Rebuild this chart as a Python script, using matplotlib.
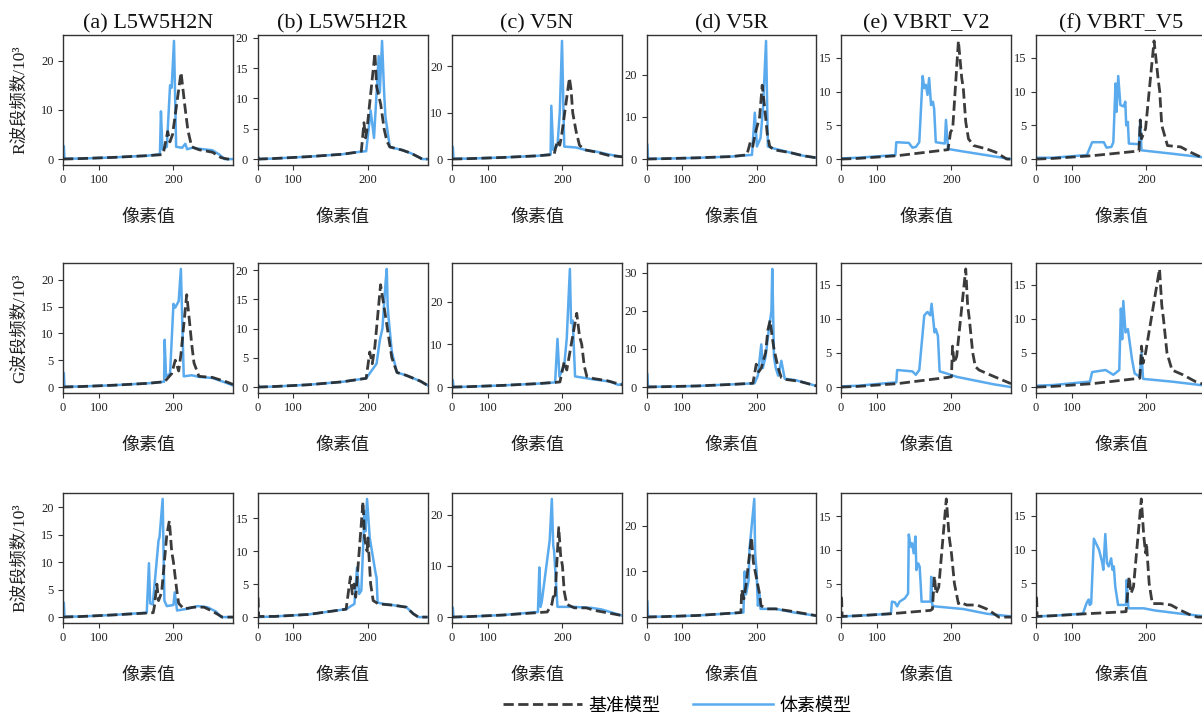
import numpy as np
import matplotlib
matplotlib.use('Agg')
import matplotlib.pyplot as plt
from matplotlib.ticker import MultipleLocator

plt.rcParams['font.family'] = ['Liberation Serif', 'Noto Sans CJK SC']

bands = ['R', 'G', 'B']
titles = ['(a) L5W5H2N', '(b) L5W5H2R', '(c) V5N', '(d) V5R', '(e) VBRT_V2', '(f) VBRT_V5']
legend_labels = ['基准模型', '体素模型']
xticks = [0, 100, 200]
ysteps = [[10, 5, 10, 10, 5, 5],
          [5, 5, 10, 10, 5, 5],
          [5, 5, 10, 10, 5, 5]]

# ---- R band (counts / 10^3) ----
r_a_base_x = [0, 63, 124, 170, 187, 188.5, 193.5, 196, 199, 208.4, 212.5, 215.8, 219.8, 227.4, 241, 249.5, 256, 261]
r_a_base_y = [0, 0.1, 0.35, 0.7, 0.9, 1.2, 5.6, 3.5, 5, 17.6, 10.8, 5.8, 2.5, 1.9, 1.4, 0.3, 0, 0]
r_a_voxel_x = [0, 10, 14, 63, 124, 170, 184.5, 185.7, 187.5, 192.5, 196.2, 198, 200.6, 203, 209.5, 213, 214.9, 220.4, 227.4, 241, 248, 252.8, 261]
r_a_voxel_y = [2.8, 2.6, 0.1, 0.1, 0.35, 0.7, 1.0, 9.7, 2.0, 2.5, 15, 14.5, 24, 2.5, 2.3, 3.1, 2.0, 2.3, 2.1, 1.8, 0.9, 0, 0]

r_b_base_x = [0, 63, 124, 170, 190.5, 192.5, 195.5, 197.3, 199, 207.7, 209.5, 214, 217.6, 220.4, 223.6, 236, 244.6, 252.8, 256, 261]
r_b_base_y = [0, 0.1, 0.4, 0.8, 1.2, 1.3, 6, 3.5, 5, 17.5, 12, 9, 5, 3, 2.0, 1.5, 1.0, 0.3, 0, 0]
r_b_voxel_x = [0, 10, 14, 63, 124, 170, 190.5, 198, 203, 206.7, 211.8, 213, 215.4, 217.6, 219, 223.6, 236, 244.6, 252.8, 256, 261]
r_b_voxel_y = [0.5, 0.4, 0, 0.1, 0.4, 0.8, 1.2, 1.3, 8, 3.5, 17, 11, 19.5, 11, 7, 2.0, 1.5, 1.0, 0.3, 0, 0]

r_c_base_x = [0, 63, 124, 170, 190.5, 194.4, 197, 199, 207.7, 209.5, 211.3, 214.9, 218.5, 224, 236, 248, 261]
r_c_base_y = [0, 0.1, 0.35, 0.7, 1.0, 4, 3, 5, 17.5, 15, 10, 6, 3, 2, 1.5, 0.8, 0.5]
r_c_voxel_x = [0, 10, 14, 63, 124, 170, 186.5, 187.3, 189.5, 194.4, 197, 199.5, 202, 214.9, 224, 236, 248, 261]
r_c_voxel_y = [2.8, 2.6, 0.1, 0.1, 0.35, 0.7, 1.0, 11.5, 2.0, 3, 10, 25.5, 2.7, 2.5, 2.0, 1.6, 1.0, 0.5]

r_d_base_x = [0, 63, 124, 170, 188.5, 192.5, 195.3, 198, 203, 205.8, 208.6, 211.3, 214, 218.5, 236, 248, 261]
r_d_base_y = [0, 0.1, 0.3, 0.6, 1.0, 4, 3, 6, 10, 17.5, 12, 6, 3, 2.2, 1.5, 0.8, 0.3]
r_d_voxel_x = [0, 10, 14, 63, 124, 170, 194.4, 197.6, 200, 204, 206.7, 210, 212, 218.5, 236, 248, 261]
r_d_voxel_y = [3.7, 3.5, 0.1, 0.1, 0.3, 0.6, 1.0, 11, 3, 5, 12, 28, 3, 2.5, 1.5, 0.8, 0.3]

r_e_base_x = [0, 63, 131.7, 196.2, 199, 201.4, 207.7, 211.3, 213, 215.6, 218.5, 224, 237.3, 246.5, 257, 261]
r_e_base_y = [0, 0.1, 0.5, 1.4, 4, 4.5, 17.5, 12, 10.5, 5.5, 3, 2, 1.5, 1.0, 0, 0]
r_e_voxel_x = [0, 63, 129.2, 130.5, 148, 152.8, 157.3, 161.7, 166, 168, 170, 172, 174, 176.3, 178.5, 180, 182, 192.5, 193.8, 196.2, 209.5, 227.4, 244.6, 261]
r_e_voxel_y = [0.1, 0.2, 0.6, 2.5, 2.4, 1.7, 1.8, 2.5, 12.3, 10.5, 11, 9.5, 12, 8, 8.5, 7.5, 2.5, 2.3, 5.8, 1.5, 1.2, 0.8, 0.4, 0]

r_f_base_x = [0, 63, 131.7, 191.5, 193, 194.4, 199, 208.4, 212.7, 214.5, 216.7, 222.7, 236.3, 246.3, 256, 261]
r_f_base_y = [0, 0.1, 0.5, 1.2, 5.8, 3, 4.5, 17.5, 12, 10, 5, 2, 1.8, 1.0, 0.3, 0]
r_f_voxel_x = [0, 63, 124, 131.7, 148, 151.6, 158, 160.5, 163.3, 164.6, 166.7, 169.4, 173.4, 175.4, 176.5, 178.5, 179.7, 191.5, 193, 194.4, 227.4, 256, 261]
r_f_voxel_y = [0.2, 0.2, 0.6, 2.5, 2.5, 1.7, 1.8, 2.5, 11.2, 7, 12.3, 8, 7.8, 8.5, 5, 5.5, 2.3, 2.2, 5.8, 1.3, 0.8, 0.3, 0.2]

# ---- G band ----
g_a_base_x = [0, 63, 124, 170, 190, 198, 202, 205.8, 208.2, 214.5, 217.6, 219.8, 222.2, 227.4, 241, 254.4, 261]
g_a_base_y = [0, 0.1, 0.35, 0.7, 1.0, 2.5, 5, 3, 6, 17.2, 12, 8, 4.5, 2, 1.8, 1.0, 0.5]
g_a_voxel_x = [0, 10, 14, 63, 124, 170, 189.4, 190, 191.6, 196.2, 200, 202, 205.8, 208.2, 211.3, 219.8, 227.4, 241, 254.4, 261]
g_a_voxel_y = [2.8, 2.6, 0.1, 0.1, 0.35, 0.7, 1.0, 8.8, 2.0, 2.5, 15.5, 14.8, 16, 22, 2, 2.2, 1.9, 1.7, 0.8, 0.3]

g_b_base_x = [0, 63, 124, 170, 198, 202, 204.8, 207.7, 213.8, 219.2, 225.7, 231, 240.4, 254.4, 261]
g_b_base_y = [0, 0.1, 0.4, 0.9, 1.5, 6, 4, 7, 17.5, 12, 5, 2.5, 2, 1.0, 0.3]
g_b_voxel_x = [0, 10, 14, 63, 124, 170, 198, 209.5, 213, 215.8, 219.2, 220.4, 221.3, 222.2, 225.7, 231, 240.4, 254.4, 261]
g_b_voxel_y = [0.5, 0.4, 0, 0.1, 0.4, 0.9, 1.5, 4, 8, 10, 18, 20.2, 14, 12, 6, 2.5, 2, 1.0, 0.3]

g_c_base_x = [0, 63, 124, 170, 191.7, 197.2, 199, 202, 204.8, 211.3, 215.6, 218.5, 220.9, 223.5, 226.2, 233.2, 246.7, 261]
g_c_base_y = [0, 0.1, 0.4, 0.8, 1.1, 1.2, 3, 6, 4, 12, 17.3, 12, 10, 5, 2.5, 2, 1.5, 0.5]
g_c_voxel_x = [0, 10, 14, 63, 124, 170, 191.7, 194.4, 196.6, 202, 204.8, 208.2, 209.5, 211.3, 213.8, 233.2, 249.5, 257.6, 261]
g_c_voxel_y = [1.8, 1.6, 0, 0.1, 0.4, 0.8, 1.1, 11.3, 2.5, 5, 11.5, 27.7, 15, 15.6, 2.5, 1.8, 1.3, 0.5, 0.8]

g_d_base_x = [0, 63, 124, 170, 195.5, 199.2, 202, 204.8, 209.5, 212, 214.4, 216.7, 218.5, 222.9, 226.2, 231, 244.6, 261]
g_d_base_y = [0, 0.1, 0.3, 0.7, 1.0, 6, 4, 5, 9, 15, 17.5, 13, 10, 5, 2.5, 2, 1.5, 0.3]
g_d_voxel_x = [0, 10, 14, 63, 124, 170, 197.3, 201, 204.8, 206.5, 209.5, 213, 215.8, 216.7, 218.5, 220.4, 222.9, 226.2, 229.7, 241, 261]
g_d_voxel_y = [3.7, 3.5, 0.1, 0.1, 0.3, 0.7, 1.0, 3, 11.2, 5, 8, 15, 20, 31, 8, 5, 3, 6.9, 2.2, 1.8, 0.3]

g_e_base_x = [0, 63, 131.7, 194.4, 200, 201.2, 203, 205.8, 215.6, 217.6, 219.4, 223, 225.7, 229.5, 240.5, 261]
g_e_base_y = [0, 0.1, 0.5, 1.4, 1.5, 6, 3.5, 4.5, 17.3, 12, 10, 5, 3, 2.5, 1.8, 0.5]
g_e_voxel_x = [0, 63, 130.5, 131.7, 152.8, 157.3, 161.7, 168, 172, 175.4, 177, 180.5, 182, 184.5, 186.5, 194.4, 205.8, 227.4, 244.6, 261]
g_e_voxel_y = [0.1, 0.2, 0.7, 2.5, 2.3, 1.8, 2.5, 10.5, 11, 10.5, 12.2, 8, 8.5, 7.5, 2.3, 2.0, 1.5, 0.9, 0.4, 0]

g_f_base_x = [0, 63, 131.7, 192.5, 194.4, 196.2, 199, 214.3, 216.7, 218.5, 222.2, 227.4, 238.5, 251, 261]
g_f_base_y = [0, 0.1, 0.5, 1.3, 6, 3.5, 5, 17.3, 12, 10, 5, 2.5, 1.8, 0.8, 0.3]
g_f_voxel_x = [0, 63, 128.5, 131.7, 150.4, 160.5, 168, 170, 171.6, 173, 175.6, 178.5, 183.5, 186.5, 192.5, 194.4, 196.2, 227.4, 261]
g_f_voxel_y = [0.2, 0.3, 0.8, 2.2, 2.5, 1.8, 2.5, 11.5, 7, 12.6, 8, 8.5, 4, 2, 1.5, 5, 1.2, 0.8, 0.2]

# ---- B band ----
b_a_base_x = [0, 63, 124, 176.5, 178, 180.9, 182.9, 186.5, 192.5, 195.4, 198, 200, 203.6, 205.8, 211.3, 222.2, 232.6, 239.4, 246.3, 250.7, 261]
b_a_base_y = [0, 0.1, 0.4, 0.8, 2, 6, 3, 4.5, 15, 17.5, 12, 10, 5, 2.5, 1.5, 1.8, 1.8, 1.2, 0.5, 0, 0]
b_a_voxel_x = [0, 10, 14, 63, 124, 168.6, 171.3, 172.8, 176, 182.9, 184, 187.7, 189.7, 192.5, 200, 201.4, 204, 214.9, 225.7, 236, 244.6, 249.5, 261]
b_a_voxel_y = [2.8, 2.6, 0.1, 0.1, 0.4, 0.8, 9.8, 2.5, 2.3, 14, 14.5, 21.5, 3, 2, 2.2, 4.5, 1.2, 1.5, 2, 1.8, 1.0, 0, 0]

b_b_base_x = [0, 8, 12, 63, 124, 174.6, 179.7, 182, 184, 186, 194.4, 196.2, 199, 200, 203, 205.8, 211.3, 227.4, 240.5, 247.3, 252.3, 261]
b_b_base_y = [3, 2.8, 0.1, 0.1, 0.4, 1.2, 6.1, 3.5, 5, 3, 17.5, 12, 10, 12, 5, 2.5, 2, 1.8, 1.5, 0.5, 0, 0]
b_b_voxel_x = [0, 10, 14, 63, 124, 174.6, 184.5, 187.5, 190, 192.5, 196.2, 197.2, 199, 202, 208.6, 209.5, 210.6, 216.7, 227.4, 240.5, 247.3, 252.3, 261]
b_b_voxel_y = [1, 0.8, 0, 0.1, 0.4, 1.2, 2, 7.5, 3.5, 4, 16, 13, 17.9, 12, 6.5, 6, 2.2, 2, 1.8, 1.5, 0.5, 0, 0]

b_c_base_x = [0, 63, 124, 182.5, 187.9, 189.5, 191.5, 195.8, 198, 200, 202, 204.8, 213, 225.7, 234.3, 261]
b_c_base_y = [0, 0.1, 0.4, 1.0, 2.5, 4, 3.5, 17.5, 12, 10, 5, 2.5, 1.8, 1.8, 1.3, 0.3]
b_c_voxel_x = [0, 10, 14, 63, 124, 171.3, 173, 174.5, 176, 185.4, 187.9, 189.5, 190.5, 194.4, 213, 231, 241, 261]
b_c_voxel_y = [2, 1.8, 0, 0.1, 0.4, 1.0, 9.7, 2, 3, 15, 23.1, 14, 13, 2, 2, 1.8, 1.5, 0.3]

b_d_base_x = [0, 63, 124, 181.5, 182.5, 185, 187.5, 193.8, 196, 198, 203, 204.5, 211.3, 220.4, 236, 261]
b_d_base_y = [0, 0.1, 0.35, 1.0, 6, 4, 7, 17.5, 12, 10, 5, 2.5, 1.8, 1.8, 1.3, 0.3]
b_d_voxel_x = [0, 10, 14, 63, 124, 184.5, 186, 187.5, 190.5, 191.6, 197, 198, 199.6, 201, 203, 204, 205.8, 220.4, 239.4, 261]
b_d_voxel_y = [3.7, 3.5, 0.1, 0.1, 0.35, 1.0, 10, 5, 8, 15, 25.9, 14, 10, 2.5, 5, 1.8, 1.8, 1.8, 1.0, 0.3]

b_e_base_x = [0, 8, 12, 63, 122.5, 175.7, 178, 180.3, 182.3, 185.5, 194.2, 197.4, 200, 203.3, 207.7, 209.5, 216.7, 227.4, 237.4, 244.6, 249.2, 261]
b_e_base_y = [3, 2.8, 0.1, 0.2, 0.5, 1.0, 1.2, 6.1, 3.5, 4.5, 17.6, 12, 9.5, 5, 2, 2.2, 1.8, 1.8, 1.2, 0.5, 0, 0]
b_e_voxel_x = [0, 63, 122.5, 124, 128.5, 131.7, 135.3, 142.6, 147, 148, 150.4, 152.2, 154.5, 156.8, 158, 160.3, 162.2, 163.7, 164.6, 175.7, 176.5, 177.7, 180.3, 213, 237.4, 261]
b_e_voxel_y = [0.1, 0.2, 0.5, 2.3, 2.2, 1.6, 2.3, 2.8, 3.5, 12.3, 10.5, 11, 9.5, 12, 7, 8, 7.5, 4.5, 2.3, 2.3, 6, 1.8, 1.6, 1.2, 0.5, 0.1]

b_f_base_x = [0, 8, 12, 63, 124, 176.3, 180, 182.3, 185.2, 194.2, 197, 199, 200, 203, 206.5, 215.6, 226.2, 236.3, 246.3, 252.8, 261]
b_f_base_y = [3, 2.8, 0.1, 0.2, 0.5, 0.8, 6, 3.5, 4.5, 17.5, 12, 9.5, 11, 5, 2, 2, 1.8, 1.0, 0.3, 0, 0]
b_f_voxel_x = [0, 63, 117.8, 124, 126.7, 128.2, 130.3, 134.2, 141.4, 146, 147.3, 150, 152.2, 154.5, 157.7, 159.4, 161.1, 163, 166.5, 176.3, 177, 179.2, 197, 208.4, 236.3, 261]
b_f_voxel_y = [0.1, 0.2, 0.5, 2.2, 2.6, 1.8, 2.0, 11.6, 10, 8, 7, 12.3, 8, 7.5, 8.7, 7, 7.5, 4.5, 1.8, 1.8, 5.5, 1.3, 1.3, 1.0, 0.5, 0.1]

panels = [
    [(r_a_base_x, r_a_base_y, r_a_voxel_x, r_a_voxel_y),
     (r_b_base_x, r_b_base_y, r_b_voxel_x, r_b_voxel_y),
     (r_c_base_x, r_c_base_y, r_c_voxel_x, r_c_voxel_y),
     (r_d_base_x, r_d_base_y, r_d_voxel_x, r_d_voxel_y),
     (r_e_base_x, r_e_base_y, r_e_voxel_x, r_e_voxel_y),
     (r_f_base_x, r_f_base_y, r_f_voxel_x, r_f_voxel_y)],
    [(g_a_base_x, g_a_base_y, g_a_voxel_x, g_a_voxel_y),
     (g_b_base_x, g_b_base_y, g_b_voxel_x, g_b_voxel_y),
     (g_c_base_x, g_c_base_y, g_c_voxel_x, g_c_voxel_y),
     (g_d_base_x, g_d_base_y, g_d_voxel_x, g_d_voxel_y),
     (g_e_base_x, g_e_base_y, g_e_voxel_x, g_e_voxel_y),
     (g_f_base_x, g_f_base_y, g_f_voxel_x, g_f_voxel_y)],
    [(b_a_base_x, b_a_base_y, b_a_voxel_x, b_a_voxel_y),
     (b_b_base_x, b_b_base_y, b_b_voxel_x, b_b_voxel_y),
     (b_c_base_x, b_c_base_y, b_c_voxel_x, b_c_voxel_y),
     (b_d_base_x, b_d_base_y, b_d_voxel_x, b_d_voxel_y),
     (b_e_base_x, b_e_base_y, b_e_voxel_x, b_e_voxel_y),
     (b_f_base_x, b_f_base_y, b_f_voxel_x, b_f_voxel_y)],
]

BLUE = '#5aaaee'
DARK = '#262626'
AXC = '#333333'

# the x axis of the source figure is stretched (not linear), a power scale mimics it
P = 1.62


def fwd(x):
    x = np.asarray(x, dtype=float)
    return np.sign(x) * np.abs(x) ** P


def inv(y):
    y = np.asarray(y, dtype=float)
    return np.sign(y) * np.abs(y) ** (1.0 / P)


W, H = 1202, 718
lefts = [63, 257.5, 452, 646.5, 841, 1036]
tops = [35, 263, 493]
aw, ah = 170, 130

fig = plt.figure(figsize=(W / 100, H / 100), dpi=100)

handles = None
for i, band in enumerate(bands):
    for j in range(6):
        ax = fig.add_axes([lefts[j] / W, 1 - (tops[i] + ah) / H, aw / W, ah / H])
        bx, by, vx, vy = panels[i][j]
        hv, = ax.plot(vx, vy, color=BLUE, lw=1.8, zorder=2)
        hb, = ax.plot(bx, by, color=DARK, lw=2.0, ls='--', alpha=0.9, zorder=3)
        handles = [hb, hv]
        ax.set_xscale('function', functions=(fwd, inv))
        ax.set_xlim(0, 261)
        ax.set_xticks(xticks)
        ax.yaxis.set_major_locator(MultipleLocator(ysteps[i][j]))
        ax.tick_params(labelsize=9, length=3.5, width=0.8, color=AXC, labelcolor='#222222', pad=3.2)
        for sp in ax.spines.values():
            sp.set_color(AXC)
            sp.set_linewidth(1.0)
        ax.set_xlabel('像素值', fontsize=13, labelpad=16.5, color='#222222')
        if i == 0:
            ax.set_title(titles[j], fontsize=16, pad=5, color='#111111')
        if j == 0:
            ax.set_ylabel(band + '波段频数/10³', fontsize=12.5, labelpad=9.5, color='#222222')

fig.legend(handles, legend_labels, loc='center', bbox_to_anchor=(677 / W, 1 - 706 / H),
           ncol=2, frameon=False, fontsize=13, handlelength=4.4, handletextpad=0.35,
           columnspacing=1.8)

fig.savefig('out.png', dpi=100)
